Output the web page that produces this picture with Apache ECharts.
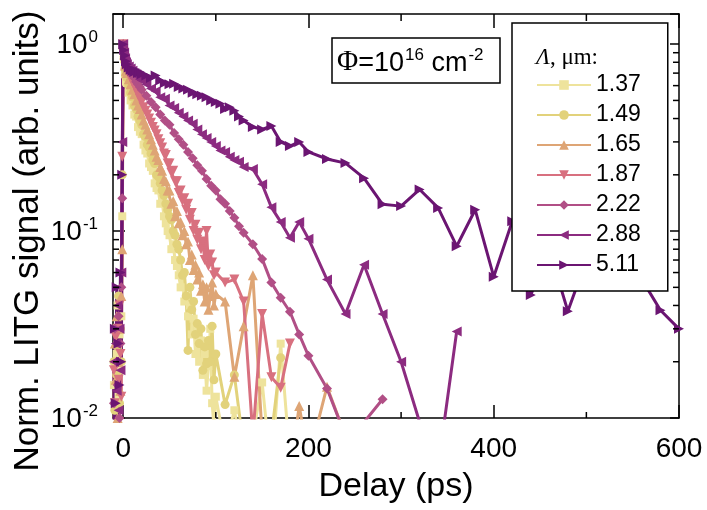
<!DOCTYPE html>
<html><head><meta charset="utf-8">
<script src="https://cdn.jsdelivr.net/npm/echarts@6/dist/echarts.min.js"></script>
<style>html,body{margin:0;padding:0;background:#fff}#c{width:707px;height:510px}</style>
</head><body><div id="c"></div>
<script>
// ---------- data ----------
const delayShort = [-10,-9,-8,-7,-6,-5,-4,-3,-2,-1,0,1,2,3,4,6,8,10,12,14,16,18,20,22,24,26,28,30,32,34,36,38,40,42,44,46,48,50,52,54,56,58,60,62,64,66,68,70,72,74,76,78,80,82,84,86,88,90,92,94,96,98,100];
const delayLong = [-10,-9,-8,-7,-6,-5,-4,-3,-2,-1,0,1,2,3,4,6,8,10,12,14,16,18,20,25,30,35,40,45,50,55,60,65,70,75,80,85,90,95,100,105,110,115,120,125,130,140,150,160,170,180,190,200,220,240,260,280,300,320,340,360,380,400,420,440,460,480,500,520,540,560,580,600];

const sig137 = [0.015,0.03,0.009,0.022,0.04,0.013,0.028,0.018,0.035,0.12,
  1.0,0.83,0.69,0.63,
  0.62,0.55,0.50,0.47,0.42,0.41,0.36,0.34,0.33,
  0.29,0.27,0.26,0.23,0.22,0.21,0.18,0.17,0.165,0.14,
  0.145,0.12,0.11,0.10,0.095,0.08,0.085,0.07,0.065,0.058,
  0.05,0.06,0.042,0.045,0.035,0.04,0.028,0.034,0.022,0.03,
  0.02,0.026,0.017,0.022,0.014,0.019,0.03,0.012,0.009,0.013];
const delayTail137 = [110,120,130,140,150,160,170,180];
const sigTail137 = [0.007,0.011,0.006,0.008,0.0155,0.005,0.025,0.006];

const sig149 = [0.02,0.011,0.03,0.017,0.024,0.045,0.012,0.03,0.02,0.2,
  1.0,0.86,0.74,0.68,
  0.66,0.60,0.55,0.52,0.47,0.45,0.41,0.39,0.37,
  0.33,0.32,0.29,0.28,0.26,0.24,0.23,0.20,0.195,0.18,
  0.165,0.155,0.14,0.13,0.12,0.115,0.10,0.095,0.085,0.08,
  0.07,0.058,0.06,0.045,0.023,0.05,0.038,0.042,0.028,0.032,
  0.025,0.03,0.018,0.024,0.0195,0.026,0.02,0.031,0.016,0.022];
const delayTail149 = [110,120,130,140,150,160,170];
const sigTail149 = [0.0118,0.017,0.007,0.009,0.006,0.008,0.021];

const sig165 = [0.008,0.025,0.016,0.035,0.01,0.02,0.03,0.014,0.045,0.08,
  1.0,0.88,0.77,0.72,
  0.70,0.65,0.61,0.57,0.54,0.50,0.47,0.45,0.42,
  0.39,0.37,0.35,0.33,0.31,0.29,0.27,0.25,0.24,0.22,
  0.21,0.19,0.185,0.165,0.165,0.14,0.145,0.12,0.128,0.11,
  0.112,0.095,0.1,0.085,0.088,0.07,0.075,0.062,0.066,0.055,
  0.06,0.048,0.052,0.042,0.05,0.038,0.045,0.053,0.04,0.046];
const delayTail165 = [110,120,130,140,150,160,170,180,190,200,220,240];
const sigTail165 = [0.042,0.0166,0.031,0.058,0.008,0.006,0.007,0.005,0.0116,0.006,0.0147,0.008];

const sig187 = [0.018,0.012,0.027,0.009,0.03,0.016,0.04,0.022,0.013,0.25,
  1.0,0.90,0.80,0.76,
  0.74,0.70,0.66,0.63,0.60,0.57,0.54,0.51,0.49,
  0.46,0.44,0.42,0.40,0.38,0.36,0.345,0.33,0.31,0.295,
  0.28,0.26,0.255,0.23,0.23,0.205,0.21,0.185,0.185,0.16,
  0.165,0.145,0.15,0.13,0.14,0.115,0.125,0.1,0.108,0.09,
  0.098,0.08,0.088,0.07,0.1,0.065,0.075,0.068,0.058,0.06];
const delayTail187 = [110,120,130,140,150,160,170,180];
const sigTail187 = [0.053,0.055,0.042,0.008,0.036,0.0165,0.0145,0.025];

const sig222 = [0.012,0.03,0.007,0.02,0.015,0.035,0.01,0.025,0.05,0.15,
  1.0,0.92,0.85,0.80,
  0.78,0.74,0.71,0.68,0.66,0.63,0.61,0.59,0.57,
  0.53,0.49,0.46,0.42,0.39,0.37,0.335,0.31,0.29,0.265,0.245,0.225,0.21,0.19,0.175,0.165,0.148,0.14,0.128,0.118,0.106,0.098,
  0.085,0.071,0.053,0.044,0.037,0.028,0.0215,
  0.0144,0.008,0.0095,0.0126];

const sig288 = [0.02,0.009,0.025,0.014,0.04,0.011,0.03,0.018,0.06,0.3,
  1.0,0.90,0.84,0.80,
  0.78,0.76,0.74,0.72,0.70,0.69,0.67,0.65,0.64,
  0.61,0.58,0.56,0.52,0.51,0.47,0.455,0.43,0.41,0.39,0.375,0.35,0.33,0.315,0.30,0.285,0.27,0.265,0.25,0.24,0.235,0.22,
  0.215,0.178,0.134,0.112,0.092,0.112,0.091,
  0.055,0.036,0.066,0.036,0.02,0.0095,0.0055,0.029];

const sig511 = [0.006,0.03,0.012,0.05,0.009,0.025,0.015,0.06,0.02,0.2,
  1.0,0.93,0.87,0.81,
  0.78,0.75,0.73,0.72,0.71,0.72,0.70,0.71,0.69,
  0.68,0.66,0.68,0.64,0.62,0.61,0.615,0.59,0.58,0.57,0.55,0.54,0.53,0.52,0.50,0.49,0.48,0.45,0.46,0.44,0.41,0.39,
  0.36,0.35,0.365,0.30,0.285,0.30,0.265,
  0.243,0.231,0.192,0.139,0.136,0.167,0.133,0.083,0.13,0.057,0.113,0.0455,0.08,0.0373,0.07,0.075,0.062,0.055,0.0377,0.030];

const legendNames = ['1.37','1.49','1.65','1.87','2.22','2.88','5.11'];
const xMajorTicks = [0,200,400,600];
const xMinorTicks = [100,300,500];
const yMinorTicks = [0.02,0.03,0.04,0.05,0.06,0.07,0.08,0.09,0.2,0.3,0.4,0.5,0.6,0.7,0.8,0.9];

// ---------- chart ----------
const FONT = '"Liberation Sans", Arial, sans-serif';
const SERIF = '"Liberation Serif", "Times New Roman", serif';
const chart = echarts.init(document.getElementById('c'), null, {renderer:'canvas', width:707, height:510});

function pairs(xs, ys){ return xs.map((x,i)=>[x, ys[i]]); }

const defs = [
  {x: delayShort.concat(delayTail137), y: sig137.concat(sigTail137), color:'#eee39c', symbol:'rect', rot:0, size:8},
  {x: delayShort.concat(delayTail149), y: sig149.concat(sigTail149), color:'#e2d27b', symbol:'circle', rot:0, size:9},
  {x: delayShort.concat(delayTail165), y: sig165.concat(sigTail165), color:'#dea575', symbol:'triangle', rot:0, size:10},
  {x: delayShort.concat(delayTail187), y: sig187.concat(sigTail187), color:'#d8707f', symbol:'triangle', rot:180, size:10},
  {x: delayLong.slice(0, sig222.length), y: sig222, color:'#b14f86', symbol:'diamond', rot:0, size:10},
  {x: delayLong.slice(0, sig288.length), y: sig288, color:'#8c2b80', symbol:'triangle', rot:90, size:10},
  {x: delayLong.slice(0, sig511.length), y: sig511, color:'#6b1572', symbol:'triangle', rot:-90, size:10}
];

const series = defs.map((d,i)=>({
  name: legendNames[i], type:'line', data: pairs(d.x, d.y),
  xAxisIndex:0, yAxisIndex:0,
  symbol: d.symbol, symbolSize: d.size, symbolRotate: d.rot, showSymbol:true, showAllSymbol:true,
  clip:true, smooth:false,
  lineStyle:{color:d.color, width:3}, itemStyle:{color:d.color, borderWidth:0},
  emphasis:{disabled:true}
}));

const axisLineStyle = {color:'#000', width:1.5};
function supLabel(v){
  const l = Math.log10(v); const e = Math.round(l);
  if (Math.abs(l - e) > 1e-6) return '';
  return '{b|10}{s|' + e + '}';
}

const option = {
  animation:false,
  backgroundColor:'#fff',
  textStyle:{fontFamily:FONT},
  grid:{left:113, right:28, top:14, bottom:92, containLabel:false, outerBoundsMode:'none'},
  xAxis:[
    {type:'value', min:-11, max:600, position:'bottom',
     axisLine:{show:true, onZero:false, lineStyle:axisLineStyle},
     axisTick:{show:true, inside:true, length:13, customValues:xMajorTicks, lineStyle:axisLineStyle},
     axisLabel:{show:true, customValues:xMajorTicks, margin:17, fontSize:28, color:'#000', fontFamily:FONT},
     splitLine:{show:false}, minorTick:{show:false},
     name:'Delay (ps)', nameLocation:'middle', nameGap:52,
     nameTextStyle:{fontSize:34, color:'#000', fontFamily:FONT}},
    {type:'value', min:-11, max:600, position:'top',
     axisLine:{show:true, onZero:false, lineStyle:axisLineStyle},
     axisTick:{show:true, inside:true, length:14, customValues:xMajorTicks, lineStyle:axisLineStyle},
     axisLabel:{show:false}, splitLine:{show:false}}
  ],
  yAxis:[
    {type:'log', logBase:10, min:0.01, max:1.45, position:'left',
     axisLine:{show:true, onZero:false, lineStyle:axisLineStyle},
     axisTick:{show:true, inside:true, length:12, lineStyle:axisLineStyle},
     axisLabel:{show:true, margin:15, color:'#000', formatter:supLabel,
       rich:{
         b:{fontSize:28, fontFamily:FONT, color:'#000', lineHeight:30, verticalAlign:'bottom'},
         s:{fontSize:17, fontFamily:FONT, color:'#000', lineHeight:17, verticalAlign:'top', padding:[0,0,20,1]}
       }},
     splitLine:{show:false}},
    {type:'log', logBase:10, min:0.01, max:1.45, position:'right',
     axisLine:{show:true, onZero:false, lineStyle:axisLineStyle},
     axisTick:{show:true, inside:true, length:9, lineStyle:axisLineStyle},
     axisLabel:{show:false}, splitLine:{show:false}}
  ],
  legend:{
    show:true, data:legendNames, orient:'vertical', left:512, top:23,
    itemWidth:54, itemHeight:12, itemGap:6, padding:[50,27,14,24],
    borderColor:'#000', borderWidth:1.5, borderRadius:0, backgroundColor:'#fff',
    selectedMode:false, z:10,
    textStyle:{fontSize:23, color:'#000', fontFamily:FONT, lineHeight:24}
  },
  series: series
};
chart.setOption(option);

// minor ticks, titles and annotation, positioned through the axes' own scales
function px(x, y){ return chart.convertToPixel({xAxisIndex:0, yAxisIndex:0}, [x, y]); }
const els = [];
const yBot = px(0, 0.01)[1], yTop = px(0, 1.45)[1];
const xL = px(-11, 1)[0], xR = px(600, 1)[0];
const tickStyle = {stroke:'#000', lineWidth:1.5};
xMinorTicks.forEach(v=>{
  const x = px(v, 1)[0];
  els.push({type:'line', shape:{x1:x, y1:yBot, x2:x, y2:yBot-6}, style:tickStyle, z:5});
  els.push({type:'line', shape:{x1:x, y1:yTop, x2:x, y2:yTop+7}, style:tickStyle, z:5});
});
yMinorTicks.forEach(v=>{
  const y = px(0, v)[1];
  els.push({type:'line', shape:{x1:xL, y1:y, x2:xL+6, y2:y}, style:tickStyle, z:5});
  els.push({type:'line', shape:{x1:xR, y1:y, x2:xR-6, y2:y}, style:tickStyle, z:5});
});
els.push({type:'text', x:28, y:241, rotation:Math.PI/2, z:20,
  style:{text:'Norm. LITG signal (arb. units)', fontSize:35, fontFamily:FONT, fill:'#000', align:'center', verticalAlign:'middle'}});
// legend title
els.push({type:'text', x:536, y:58, z:30,
  style:{text:'{i|Λ}{r|, μm:}', align:'left', verticalAlign:'middle',
    rich:{i:{fontSize:23, fontFamily:SERIF, fontStyle:'italic', fill:'#000'}, r:{fontSize:23, fontFamily:SERIF, fill:'#000'}}}});
// fluence box
els.push({type:'rect', shape:{x:332, y:38, width:168, height:45}, style:{fill:'#fff', stroke:'#000', lineWidth:1.5}, z:30});
els.push({type:'text', x:337, y:62, z:31,
  style:{text:'{p|Φ}{n|=10}{s|16}{n| cm}{s|-2}', align:'left', verticalAlign:'middle',
    rich:{
      p:{fontSize:29, fontFamily:SERIF, fill:'#000', lineHeight:30, verticalAlign:'bottom'},
      n:{fontSize:27, fontFamily:FONT, fill:'#000', lineHeight:30, verticalAlign:'bottom'},
      s:{fontSize:17, fontFamily:FONT, fill:'#000', lineHeight:17, verticalAlign:'top', padding:[0,0,16,1]}
    }}});
chart.setOption({graphic:{elements:els}});
</script></body></html>
